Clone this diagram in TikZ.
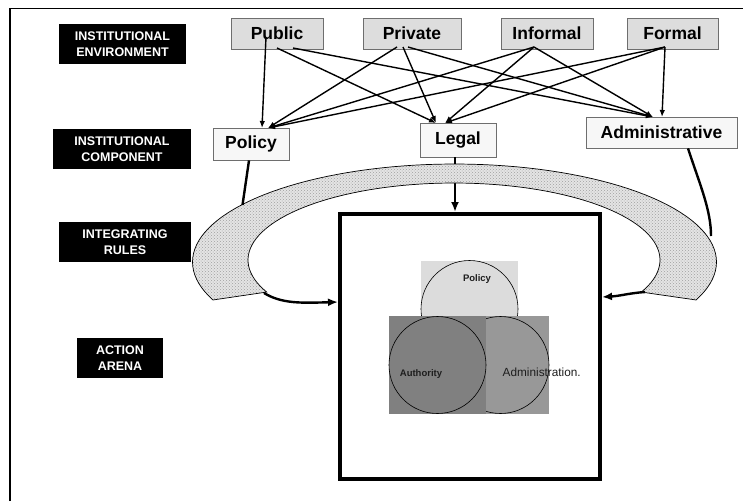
\documentclass[tikz,border=0pt]{standalone}
\usepackage{fontspec}
\setmainfont{Liberation Sans}
\usetikzlibrary{arrows.meta,patterns}

\definecolor{boxgray}{HTML}{DDDDDD}
\definecolor{paleface}{HTML}{F7F7F7}
\definecolor{edgegray}{HTML}{6E6E6E}
\definecolor{authgray}{HTML}{808080}
\definecolor{admgray}{HTML}{989898}
\definecolor{polgray}{HTML}{DCDCDC}
\definecolor{inkdark}{HTML}{1E1E1E}
\definecolor{bandgray}{HTML}{E4E4E4}

\begin{document}
\begin{tikzpicture}[x=1pt,y=-1pt,
  tierlabel/.style={fill=black, text=white, inner sep=0pt, align=center,
    font=\fontsize{12.5}{15.5}\selectfont\bfseries},
  sourcebox/.style={draw=edgegray, fill=boxgray, line width=0.8pt, inner sep=0pt,
    minimum height=31pt, font=\fontsize{17.5}{20}\selectfont\bfseries},
  partbox/.style={draw=edgegray, fill=paleface, line width=0.8pt, inner sep=0pt,
    font=\fontsize{17.5}{20}\selectfont\bfseries},
  link/.style={line width=1.4pt, -{Latex[length=7pt,width=5.5pt]}},
  feed/.style={line width=2.4pt},
  feedarrow/.style={line width=2.4pt, -{Latex[length=10pt,width=8pt]}},
  vennedge/.style={draw=black, line width=0.6pt},
  bandfill/.style={draw=black, line width=0.7pt,
    preaction={fill=bandgray}, pattern=crosshatch dots, pattern color=gray!75}
]
\useasboundingbox (0,0) rectangle (743,501);
\clip (0,0) rectangle (743,501);
\fill[white] (0,0) rectangle (743,501);

% page frame
\draw[line width=1.3pt] (10,501) -- (10,8.5) -- (743,8.5);

% tier captions
\node[tierlabel, minimum width=127pt, minimum height=40pt] (envlabel)   at (122.5,44)  {INSTITUTIONAL\\ENVIRONMENT};
\node[tierlabel, minimum width=138pt, minimum height=40pt] (complabel)  at (122,149)   {INSTITUTIONAL\\COMPONENT};
\node[tierlabel, minimum width=132pt, minimum height=40pt] (ruleslabel) at (125,242)   {INTEGRATING\\RULES};
\node[tierlabel, minimum width=86pt,  minimum height=40pt] (arenalabel) at (120,358)   {ACTION\\ARENA};

% environment sources
\node[sourcebox, minimum width=92pt] (public)   at (277,33.5)   {Public};
\node[sourcebox, minimum width=98pt] (private)  at (412,33.5)   {Private};
\node[sourcebox, minimum width=92pt] (informal) at (547,33.5)   {Informal};
\node[sourcebox, minimum width=91pt] (formal)   at (672.5,33.5) {Formal};

% institutional components
\node[partbox, minimum width=76pt,  minimum height=32pt] (policy) at (251,144)   {Policy};
\node[partbox, minimum width=76pt,  minimum height=34pt] (legal)  at (458,140)   {Legal};
\node[partbox, minimum width=151pt, minimum height=31pt] (admin)  at (661.5,132.5) {Administrative};

% action arena
\node[draw, line width=4pt, minimum width=260pt, minimum height=265pt, inner sep=0pt] (arena) at (470,346.5) {};

% legal feeds straight into the arena, passing under the band
\coordinate (legalfoot) at ([xshift=-3pt]legal.south);
\draw[feedarrow] (legalfoot) -- (legalfoot |- arena.north);

% integrating-rules band
\path[bandfill]
  plot[domain=157.2:382.8, samples=90] ({454.5+262*cos(\x)},{262+98*sin(\x)})
  -- plot[domain=384.6:155.4, samples=90] ({454+206*cos(\x)},{260+77*sin(\x)})
  -- cycle;
\coordinate (bandL)  at (264,293);
\coordinate (bandR)  at (645,292);
\coordinate (bandPol) at (242.5,205);
\coordinate (bandAdm) at (711,236);

% components attach to the band
\draw[feed] ([xshift=-2pt]policy.south) -- (bandPol);
\draw[feed] ([xshift=26.5pt]admin.south) .. controls (700,185) and (711,210) .. (bandAdm);

% band delivers rules into the arena
\coordinate (arenaL) at (arena.west |- 0,302);
\coordinate (arenaR) at (arena.east |- 0,297);
\draw[feedarrow] (bandL) .. controls (282,304) and (302,303) .. (arenaL);
\draw[feedarrow] (bandR) .. controls (630,293) and (620,296) .. (arenaR);

% inside the arena
\fill[polgray] (421,261) rectangle (518,317);
\draw[vennedge, fill=polgray] (469.5,309) circle[radius=48.5pt];
\fill[admgray] (486,316) rectangle (549,414);
\draw[vennedge, fill=admgray] (500.5,365) circle[radius=48.5pt];
\fill[authgray] (389,316) rectangle (486,414);
\draw[vennedge, fill=authgray] (437.5,365) circle[radius=48.5pt];
\node[text=inkdark, font=\fontsize{9.5}{11}\selectfont\bfseries] (vpolicy) at (477,279) {Policy};
\node[text=inkdark, font=\fontsize{9.5}{11}\selectfont\bfseries] (vauth) at (421,374) {Authority};
\node[text=inkdark, anchor=west, inner sep=0pt, font=\fontsize{11.8}{13}\selectfont] (vadmin) at (502.5,372) {Administration.};

% source-to-component links
\coordinate (pubS1) at (266,37);
\coordinate (pubS2) at (277,48);
\coordinate (pubS3) at (293,48);
\coordinate (priS1) at (397,47);
\coordinate (priS2) at (403,47);
\coordinate (priS3) at (408,47);
\coordinate (infS)  at (534,47);
\coordinate (forS)  at (665,47);
\coordinate (polT1) at (262,128);
\coordinate (polT2) at (268,128);
\coordinate (legT1) at (436,123);
\coordinate (legT2) at (445,123);
\coordinate (admT1) at (653,117);
\coordinate (admT2) at (662,117);

\draw[link] (pubS1) -- (polT1);
\draw[link] (pubS2) -- (legT1);
\draw[link] (pubS3) -- (admT1);
\draw[link] (priS1) -- (polT2);
\draw[link] (priS2) -- (legT1);
\draw[link] (priS3) -- (admT1);
\draw[link] (infS) -- (polT2);
\draw[link] (infS) -- (legT2);
\draw[link] (infS) -- (admT1);
\draw[link] (forS) -- (polT2);
\draw[link] (forS) -- (legT2);
\draw[link] (forS) -- (admT2);
\end{tikzpicture}
\end{document}
